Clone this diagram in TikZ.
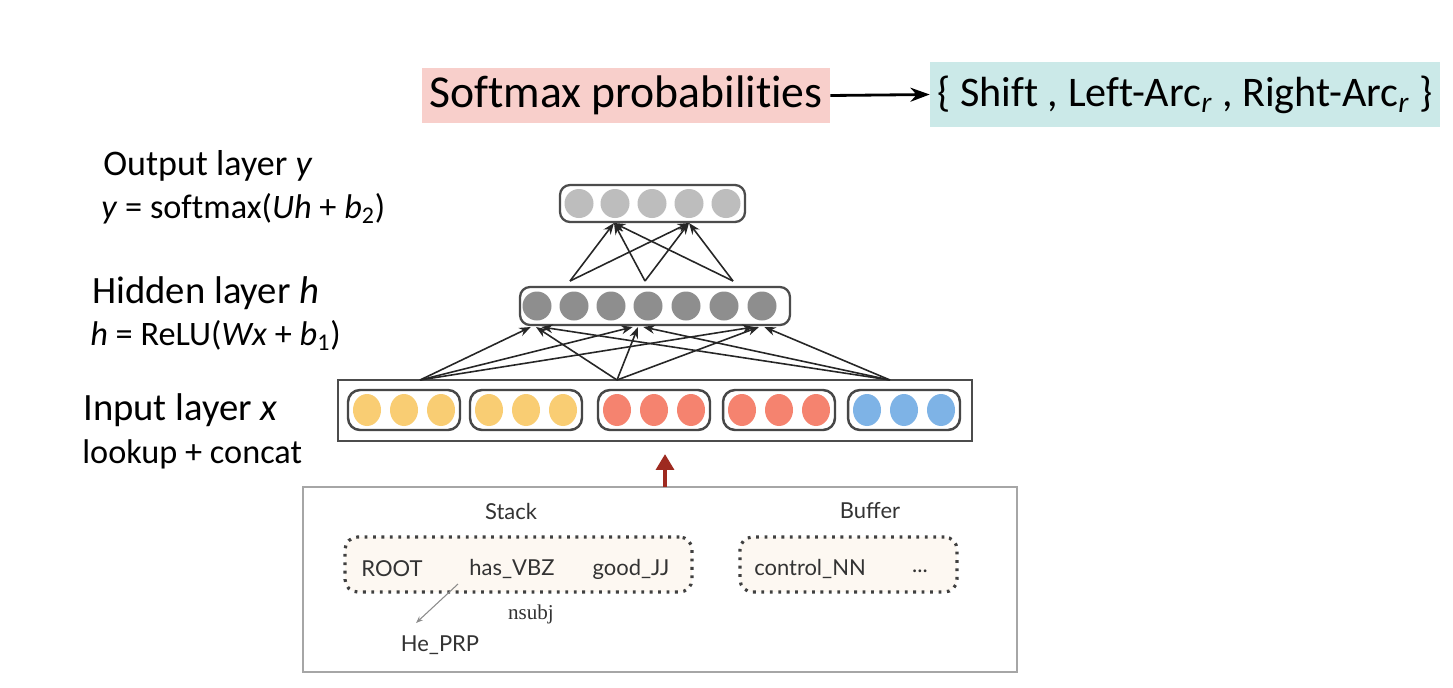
\documentclass[tikz,border=0pt]{standalone}
\usepackage{fontspec}
\setmainfont[Ligatures=NoCommon]{Carlito}
\newfontfamily\stackfont{Lato}
\newfontfamily\serifr{Liberation Serif}
\usetikzlibrary{arrows.meta,shapes.geometric}
\definecolor{pinkbg}{HTML}{F8CFCB}
\definecolor{cyanbg}{HTML}{CBE9E8}
\definecolor{outc}{HTML}{BDBDBD}
\definecolor{hidc}{HTML}{8E8E8E}
\definecolor{yel}{HTML}{F9CD73}
\definecolor{redc}{HTML}{F5836F}
\definecolor{bluc}{HTML}{7EB3E6}
\definecolor{darkred}{HTML}{9E2A20}
\definecolor{beige}{HTML}{FDF8F2}
\tikzset{
  layerbox/.style={draw=black!70, line width=1.3pt, rounded corners=0.2cm, fill=white, inner sep=0pt},
  groupbox/.style={draw=black!72, line width=1.4pt, rounded corners=0.24cm, fill=white, inner sep=0pt, minimum width=2.24cm, minimum height=0.8cm},
  neuron/.style={circle, inner sep=0pt, minimum size=0.58cm},
  emb/.style={ellipse, inner sep=0pt, minimum width=0.56cm, minimum height=0.64cm},
  conn/.style={-{Stealth[length=6.5pt,width=5pt]}, line width=0.9pt, black!85},
  lbl/.style={anchor=base west, inner sep=0pt, font=\fontsize{22}{26}\selectfont},
  eqn/.style={anchor=base west, inner sep=0pt, font=\fontsize{19.5}{23}\selectfont},
  dotbox/.style={draw=black!75, line width=1.8pt, dash pattern=on 1.6pt off 3.2pt, rounded corners=0.25cm, fill=beige, inner sep=0pt},
  stk/.style={inner sep=0pt, font=\stackfont\fontsize{12.5}{14}\selectfont, text=black!80}
}
\begin{document}
\begin{tikzpicture}[x=0.02cm,y=-0.02cm]
\useasboundingbox (0,0) rectangle (1453,687);
\fill[white] (0,0) rectangle (1453,687);

% top row
\node[fill=pinkbg, minimum width=8.16cm, minimum height=1.1cm, inner sep=0pt, font=\fontsize{26}{30}\selectfont] (soft) at (626,95.5) {Softmax probabilities};
\node[fill=cyanbg, minimum width=10.2cm, minimum height=1.3cm, inner sep=0pt, font=\fontsize{24}{28}\selectfont] (acts) at (1185,94.5) {\{ Shift , Left-Arc\textsubscript{\textit{r}} , Right-Arc\textsubscript{\textit{r}} \}};
\draw[-{Stealth[length=11pt,width=8pt]}, line width=1.6pt] (soft.east) -- (acts.west);

% left labels
\node[lbl, font=\fontsize{20.5}{24}\selectfont] (lo) at (103,175) {Output layer \textit{y}};
\node[eqn] (eo) at (101,218) {\textit{y} = softmax(\textit{Uh} + \textit{b}\textsubscript{2})};
\node[lbl] (lh) at (92,303) {Hidden layer \textit{h}};
\node[eqn] (eh) at (90,345) {\textit{h} = ReLU(\textit{Wx} + \textit{b}\textsubscript{1})};
\node[lbl] (li) at (83,420) {Input layer \textit{x}};
\node[eqn] (ei) at (82,463) {lookup + concat};

% output layer
\node[layerbox, minimum width=3.7cm, minimum height=0.74cm] (outl) at (652.5,203.5) {};
\foreach \i/\x in {1/579,2/615,3/652,4/689,5/726}
  \node[neuron, fill=outc] (o\i) at (\x,203.5) {};

% hidden layer
\node[layerbox, minimum width=5.4cm, minimum height=0.76cm] (hidl) at (655,306) {};
\foreach \i/\x in {1/537,2/574,3/611,4/648,5/686,6/724,7/762}
  \node[neuron, fill=hidc] (h\i) at (\x,306) {};

% input layer
\node[draw=black!70, line width=1.3pt, fill=white, minimum width=12.68cm, minimum height=1.22cm, inner sep=0pt] (inl) at (655,410.5) {};
\foreach \g/\x/\c in {1/404/yel,2/526/yel,3/654/redc,4/779/redc,5/904/bluc}{
  \node[groupbox] (g\g) at (\x,410) {};
  \foreach \k/\d in {1/-37,2/0,3/37}
    \node[emb, fill=\c] (e\g\k) at (\x+\d,410) {};
}

% connectors hidden -> output
\coordinate (hs1) at (570,281);
\coordinate (hs2) at (645,281);
\coordinate (hs3) at (733,281);
\coordinate (ot1) at (614,223);
\coordinate (ot2) at (689,223);
\foreach \s in {hs1,hs2,hs3}
  \foreach \t in {ot1,ot2}
    \draw[conn] (\s) -- (\t);

% connectors input -> hidden
\coordinate (is1) at (420,380);
\coordinate (is2) at (617,380);
\coordinate (is3) at (890,380);
\coordinate (ht1) at (536,327);
\coordinate (ht2) at (638,327);
\coordinate (ht3) at (759,327);
\foreach \s/\dx in {is1/-3pt,is2/0pt,is3/3pt}
  \foreach \t in {ht1,ht2,ht3}
    \draw[conn] (\s) -- ([xshift=\dx]\t);

% bottom configuration box
\node[draw=black!35, line width=1pt, fill=white, minimum width=14.28cm, minimum height=3.7cm, inner sep=0pt] (conf) at (660,579.5) {};
\coordinate (rs) at (665,487);
\coordinate (re) at (665,454);
\draw[-{Triangle[length=9pt,width=10pt]}, line width=2.6pt, darkred] (rs) -- (re);

\node[stk] (stack) at (511,511) {Stack};
\node[stk] (buffer) at (870,511) {Buffer};
\node[dotbox, minimum width=6.94cm, minimum height=1.1cm] (sbox) at (518.5,564.5) {};
\node[dotbox, minimum width=4.34cm, minimum height=1.1cm] (bbox) at (848.5,564.5) {};
\node[stk] (root) at (392,569) {ROOT};
\node[stk] (has) at (512,569) {has\_VBZ};
\node[stk] (good) at (631,569) {good\_JJ};
\node[stk] (ctrl) at (810,569) {control\_NN};
\node[stk] (dots) at (920,571) {...};
\node[stk] (he) at (440,645) {He\_PRP};
\node[inner sep=0pt, font=\serifr\fontsize{12}{14}\selectfont, text=black!80] (nsubj) at (531,614) {nsubj};
\coordinate (arcs) at (458,584);
\coordinate (arce) at (416,623);
\draw[-{Stealth[length=4pt,width=3pt]}, line width=0.6pt, black!45] (arcs) -- (arce);
\end{tikzpicture}
\end{document}
